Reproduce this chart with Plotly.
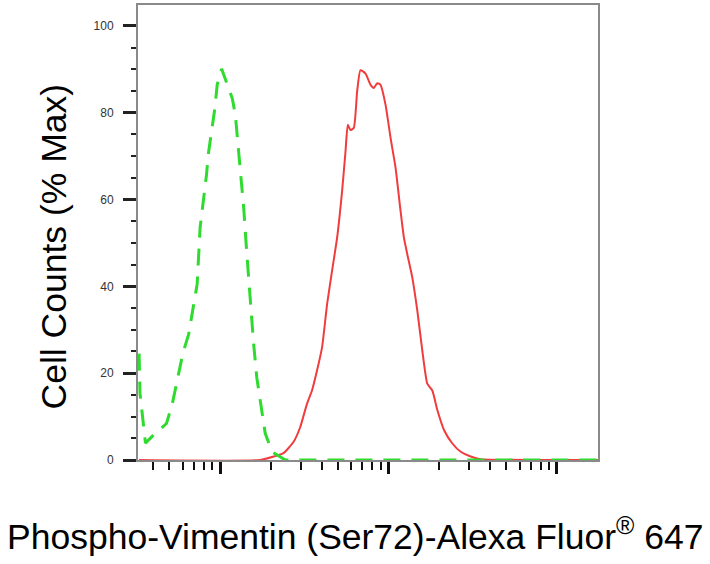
import plotly.graph_objects as go

# Control (green dashed) histogram: fluorescence intensity vs % max
control_x = [33, 33.4, 36, 41, 48, 52, 60, 65, 73, 76, 83, 85, 93, 96, 102, 110,
             118, 123, 126, 135, 138, 144, 147, 154, 158, 165, 173, 185, 203, 244,
             1000, 17500]
control_y = [24.5, 15.4, 3.9, 6.1, 8.4, 13, 24.5, 29, 40.5, 53.5, 65.8, 70.4, 81,
             86.4, 90.1, 86.7, 83.3, 79.6, 75, 62.6, 58, 47.5, 42.9, 32, 26.8, 19,
             13.8, 6.2, 1.9, 0, 0, 0]

# Stained sample (red solid) histogram
sample_x = [33, 173, 208, 238, 273, 299, 328, 351, 376, 403, 432, 462, 495, 530,
            555, 573, 594, 622, 651, 681, 730, 782, 818, 857, 896, 960, 1028, 1101,
            1179, 1234, 1292, 1384, 1482, 1587, 1699, 1820, 1949, 2135, 2393, 2683,
            3076, 3530, 17500]
sample_y = [0, 0, 0.8, 1.6, 4.2, 7.6, 13, 16, 20.6, 26, 36, 43.6, 51.2, 62, 71,
            77.2, 76, 76.5, 84.9, 89.8, 89, 86.4, 85.7, 86.8, 86.4, 81.8, 74.2,
            67.3, 57.3, 51.2, 47.4, 42, 34.4, 25.2, 17.6, 16, 11.5, 6.9, 3.8, 1.9,
            0.8, 0.2, 0]

y_ticks = [0, 20, 40, 60, 80, 100]
y_tick_labels = ["0", "20", "40", "60", "80", "100"]
x_major = [100, 1000, 10000]
x_minor = [m * d for d in (10, 100, 1000) for m in range(2, 10)]

x_title = "Phospho-Vimentin (Ser72)-Alexa Fluor<sup>®</sup> 647"
y_title = "Cell Counts (% Max)"

fig = go.Figure()
fig.add_trace(go.Scatter(
    x=sample_x, y=sample_y, mode="lines",
    line=dict(color="#F03C3C", width=2, shape="spline", smoothing=0.5),
    hoverinfo="skip", showlegend=False))
fig.add_trace(go.Scatter(
    x=control_x, y=control_y, mode="lines",
    line=dict(color="#2EDB2E", width=3, dash="17px,11px"),
    hoverinfo="skip", showlegend=False))

axis_font = dict(family="Liberation Sans, Arial, sans-serif", size=12, color="#333333")
title_font = dict(family="Liberation Sans, Arial, sans-serif", size=35.5, color="black")

fig.update_layout(
    width=710, height=564,
    margin=dict(l=138, r=112, t=3, b=104),
    paper_bgcolor="white", plot_bgcolor="white",
    font=dict(family="Liberation Sans, Arial, sans-serif", color="black"),
    xaxis=dict(
        type="log", range=[1.512, 4.244],
        tickmode="array", tickvals=x_major, showticklabels=False,
        ticks="outside", ticklen=12, tickwidth=3, tickcolor="#111111",
        minor=dict(tickmode="array", tickvals=x_minor, ticks="outside",
                   ticklen=8, tickwidth=1.5, tickcolor="#111111", showgrid=False),
        showgrid=False, zeroline=False,
        showline=True, linecolor="#8a8a8a", linewidth=2, mirror=True,
        layer="below traces",
    ),
    yaxis=dict(
        range=[0, 104.8],
        tickmode="array", tickvals=y_ticks, ticktext=y_tick_labels,
        tickfont=axis_font, ticklabelstandoff=7,
        ticks="outside", ticklen=13, tickwidth=2.5, tickcolor="#222222",
        minor=dict(dtick=5, tick0=0, ticks="outside", ticklen=5, tickwidth=1.5,
                   tickcolor="#222222", showgrid=False),
        showgrid=False, zeroline=False,
        showline=True, linecolor="#8a8a8a", linewidth=2, mirror=True,
        layer="below traces",
    ),
    annotations=[
        dict(text=x_title, xref="paper", yref="paper", x=0.4717, y=-0.164,
             xanchor="center", yanchor="middle", showarrow=False, font=title_font),
        dict(text=y_title, xref="paper", yref="paper", x=-0.182, y=0.47,
             xanchor="center", yanchor="middle", textangle=-90, showarrow=False,
             font=title_font),
    ],
)

fig.write_html("out.html", config={"displayModeBar": False},
               post_script="document.body.style.margin='0';document.body.style.padding='0';")
